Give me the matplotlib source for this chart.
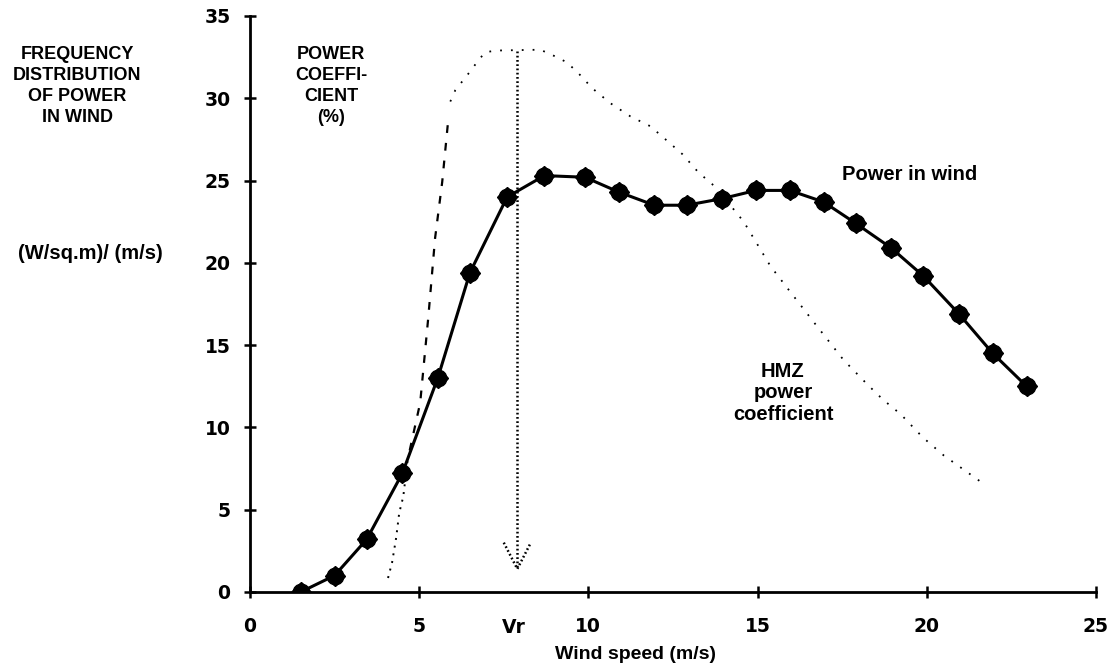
import matplotlib
matplotlib.use("Agg")
import matplotlib.pyplot as plt

# Power in wind (frequency distribution), W/m^2 per m/s
wind_x = [1.5, 2.5, 3.45, 4.5, 5.55, 6.5, 7.6, 8.7, 9.9, 10.9, 11.95, 12.9,
          13.95, 14.95, 15.95, 16.95, 17.9, 18.95, 19.9, 20.95, 21.95, 22.95]
wind_y = [0.0, 1.0, 3.2, 7.2, 13.0, 19.4, 24.0, 25.3, 25.2, 24.3, 23.5, 23.5,
          23.9, 24.4, 24.4, 23.7, 22.4, 20.9, 19.2, 16.9, 14.5, 12.5]

# HMZ power coefficient (%), read in three pieces
cp_low_x = [4.08, 4.2, 4.32, 4.41, 4.53, 4.67]
cp_low_y = [0.85, 1.8, 3.3, 4.8, 5.8, 8.2]
cp_ramp_x = [4.72, 5.03, 5.27, 5.47, 5.68, 5.85]
cp_ramp_y = [8.6, 11.5, 16.7, 21.5, 24.9, 28.5]
cp_top_x = [5.92, 6.07, 6.42, 6.75, 6.95, 7.3, 8.58, 8.96, 9.35, 9.67, 10.12,
            10.65, 11.24, 11.83, 12.28, 12.78, 13.25, 13.76, 14.59, 15.03,
            15.38, 15.98, 16.66, 17.54, 18.25, 18.7, 19.23, 19.88, 20.5, 21.66]
cp_top_y = [29.8, 30.5, 31.4, 32.3, 32.8, 32.9, 32.95, 32.6, 32.2, 31.6, 30.6,
            29.7, 28.9, 28.3, 27.5, 26.6, 25.5, 24.6, 22.5, 21.0, 19.8, 18.2,
            16.4, 14.1, 12.6, 11.7, 10.8, 9.4, 8.3, 6.6]

# rated wind speed arrow
vr = 7.9
vr_top = 32.9
vr_tip = 1.4
vr_head = [7.5, 7.9, 8.3]
vr_head_y = [3.0, 1.4, 3.0]

xticks = [0, 5, 10, 15, 20, 25]
yticks = [0, 5, 10, 15, 20, 25, 30, 35]

plt.rcParams['font.family'] = ['Liberation Sans', 'DejaVu Sans']
plt.rcParams['font.weight'] = 'bold'

fig = plt.figure(figsize=(11.14, 6.68), dpi=100)
ax = fig.add_axes([0.2244, 0.1138, 0.7594, 0.8623])

ax.plot(cp_low_x, cp_low_y, color="black", lw=1.4, ls=(0, (1, 3)))
ax.plot(cp_ramp_x, cp_ramp_y, color="black", lw=1.6, ls=(0, (3.5, 4.5)))
ax.plot(cp_top_x, cp_top_y, color="black", lw=1.3, ls=(0, (1, 5)))

ax.plot([vr, vr], [vr_top, vr_tip], color="black", lw=1.8, ls=(0, (0.7, 1.0)))
ax.plot(vr_head, vr_head_y, color="black", lw=1.8, ls=(0, (0.7, 1.0)))

ax.plot(wind_x, wind_y, color="black", lw=2.2, marker="o", ms=12, zorder=5)
ax.plot(wind_x, wind_y, color="black", lw=0, marker="D", ms=10, zorder=6)

ax.set_xlim(0, 25)
ax.set_ylim(0, 35)
ax.spines['top'].set_visible(False)
ax.spines['right'].set_visible(False)
ax.spines['left'].set_linewidth(2)
ax.spines['bottom'].set_linewidth(2)
ax.set_xticks(xticks)
ax.set_yticks(yticks)
ax.tick_params(direction='inout', length=8, width=1.8, labelsize=13.5)
ax.tick_params(axis='x', pad=14)
ax.tick_params(axis='y', pad=10)
for lab in ax.get_xticklabels() + ax.get_yticklabels():
    lab.set_fontfamily('DejaVu Sans')
    lab.set_fontweight('bold')

ax.text(vr - 0.1, -0.0625, "Vr", transform=ax.get_xaxis_transform(),
        ha='center', va='center', fontsize=13.5, family='DejaVu Sans', fontweight='bold')
ax.text(0.456, -0.109, "Wind speed (m/s)", transform=ax.transAxes,
        ha='center', va='center', fontsize=14)

ax.text(910 / 1114, 1 - 175 / 668, "Power in wind", transform=fig.transFigure,
        ha='center', va='center', fontsize=14.5)
ax.text(783 / 1114, 1 - 393 / 668, "HMZ\npower\ncoefficient", transform=fig.transFigure,
        ha='center', va='center', fontsize=14.5, linespacing=1.15)

fig.text(77 / 1114, 1 - 86 / 668, "FREQUENCY\nDISTRIBUTION\nOF POWER\nIN WIND",
         ha='center', va='center', fontsize=13, linespacing=1.3)
fig.text(90 / 1114, 1 - 254 / 668, "(W/sq.m)/ (m/s)", ha='center', va='center', fontsize=14.5)
fig.text(331 / 1114, 1 - 86 / 668, "POWER\nCOEFFI-\nCIENT\n(%)",
         ha='center', va='center', fontsize=13, linespacing=1.3)

fig.savefig("out.png", dpi=100)
